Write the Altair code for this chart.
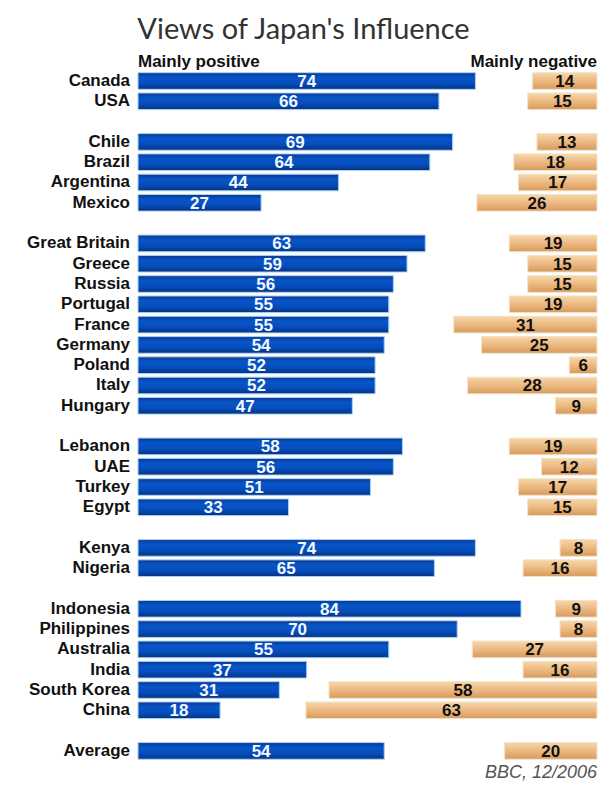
import altair as alt
import pandas as pd

countries = ["Canada", "USA", "Chile", "Brazil", "Argentina", "Mexico",
             "Great Britain", "Greece", "Russia", "Portugal", "France", "Germany",
             "Poland", "Italy", "Hungary", "Lebanon", "UAE", "Turkey", "Egypt",
             "Kenya", "Nigeria", "Indonesia", "Philippines", "Australia", "India",
             "South Korea", "China", "Average"]
positive = [74, 66, 69, 64, 44, 27, 63, 59, 56, 55, 55, 54, 52, 52, 47,
            58, 56, 51, 33, 74, 65, 84, 70, 55, 37, 31, 18, 54]
negative = [14, 15, 13, 18, 17, 26, 19, 15, 15, 19, 31, 25, 6, 28, 9,
            19, 12, 17, 15, 8, 16, 9, 8, 27, 16, 58, 63, 20]
groups = [0, 0, 1, 1, 1, 1, 2, 2, 2, 2, 2, 2, 2, 2, 2,
          3, 3, 3, 3, 4, 4, 5, 5, 5, 5, 5, 5, 6]

df = pd.DataFrame({"country": countries, "pos": positive, "neg": negative, "group": groups})
df["row"] = df.index + df["group"]

W = 459
H = 730.8
ydom = [-1.5, 34.5]
FONT = "Liberation Sans"
LFS = 17
NFS = 17

yscale = alt.Scale(domain=ydom, reverse=True, nice=False, zero=False)
pos_scale = alt.Scale(domain=[0, 100.66], nice=False, zero=True)
neg_scale = alt.Scale(domain=[0, 99.35], nice=False, zero=True, reverse=True)

base = alt.Chart(df).transform_calculate(
    y1="datum.row - 0.41", y2="datum.row + 0.41",
    pmid="datum.pos / 2", nmid="datum.neg / 2", zero="0"
)

blue = alt.Gradient(gradient="linear", x1=0, x2=0, y1=0, y2=1, stops=[
    alt.GradientStop(color="#0a3a92", offset=0),
    alt.GradientStop(color="#0855c8", offset=0.3),
    alt.GradientStop(color="#054dbd", offset=0.65),
    alt.GradientStop(color="#06337f", offset=1)])
tan = alt.Gradient(gradient="linear", x1=0, x2=0, y1=0, y2=1, stops=[
    alt.GradientStop(color="#f7d7aa", offset=0),
    alt.GradientStop(color="#eab67d", offset=0.55),
    alt.GradientStop(color="#d69a5c", offset=1)])

pos_bars = base.mark_bar(color=blue, stroke="#a9d3f3", strokeWidth=1).encode(
    x=alt.X("pos:Q", scale=pos_scale, axis=None),
    x2="zero:Q",
    y=alt.Y("y1:Q", scale=yscale, axis=None),
    y2="y2:Q")
pos_text = base.mark_text(color="#f4f8ff", font=FONT, fontWeight="bold", fontSize=NFS,
                          baseline="middle", align="center", dy=1).encode(
    x=alt.X("pmid:Q", scale=pos_scale, axis=None),
    y=alt.Y("row:Q", scale=yscale, axis=None),
    text="pos:Q")
neg_bars = base.mark_bar(color=tan, stroke="#f3e2c8", strokeWidth=1).encode(
    x=alt.X("neg:Q", scale=neg_scale, axis=None),
    x2="zero:Q",
    y=alt.Y("y1:Q", scale=yscale, axis=None),
    y2="y2:Q")
neg_text = base.mark_text(color="#111111", font=FONT, fontWeight="bold", fontSize=NFS,
                          baseline="middle", align="center", dy=1).encode(
    x=alt.X("nmid:Q", scale=neg_scale, axis=None),
    y=alt.Y("row:Q", scale=yscale, axis=None),
    text="neg:Q")
labels = base.mark_text(color="#111111", font=FONT, fontWeight="bold", fontSize=LFS,
                        baseline="middle", align="right").encode(
    x=alt.value(-8),
    y=alt.Y("row:Q", scale=yscale, axis=None),
    text="country:N")

hdr = pd.DataFrame({"row": [-0.95]})
hdr_pos = alt.Chart(hdr).mark_text(text="Mainly positive", color="#111111", font=FONT,
                                   fontWeight="bold", fontSize=LFS, align="left",
                                   baseline="middle").encode(
    x=alt.value(0), y=alt.Y("row:Q", scale=yscale, axis=None))
hdr_neg = alt.Chart(hdr).mark_text(text="Mainly negative", color="#111111", font=FONT,
                                   fontWeight="bold", fontSize=LFS, align="right",
                                   baseline="middle").encode(
    x=alt.value(W), y=alt.Y("row:Q", scale=yscale, axis=None))
src = pd.DataFrame({"row": [34.1]})
source = alt.Chart(src).mark_text(text="BBC, 12/2006", color="#555555", font=FONT,
                                  fontStyle="italic", fontSize=18, align="right",
                                  baseline="middle").encode(
    x=alt.value(W), y=alt.Y("row:Q", scale=yscale, axis=None))

chart = alt.layer(pos_bars, neg_bars, pos_text, neg_text, labels, hdr_pos, hdr_neg, source).resolve_scale(
    x="independent"
).properties(
    width=W, height=H,
    title=alt.TitleParams("Views of Japan's Influence", fontSize=29, font="Lato",
                          fontWeight="normal", color="#333333", anchor="middle",
                          dx=-64, offset=6),
    autosize=alt.AutoSizeParams(type="none"),
    padding={"left": 130, "top": 42.55, "right": 3, "bottom": 0},
    background="white"
).configure_view(stroke=None)

chart.save("out.html", embed_options={"renderer": "svg", "actions": False})
